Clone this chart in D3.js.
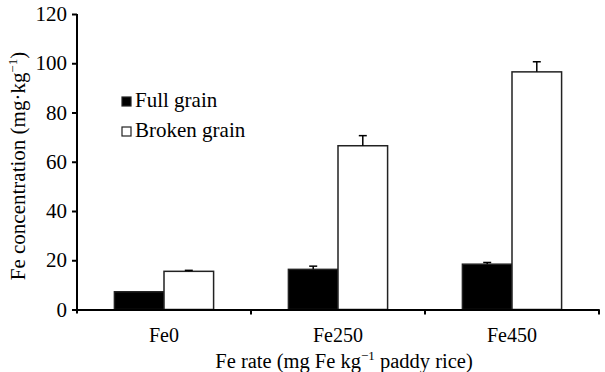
<!DOCTYPE html>
<html>
<head>
  <meta charset="utf-8">
  <title>Fe concentration</title>
  <style>
    body { margin: 0; background: #fff; }
  </style>
</head>
<body>
  <div id="chart"></div>
  <script src="https://d3js.org/d3.v7.min.js"></script>
  <script>
    const categories = ["Fe0", "Fe250", "Fe450"];
    const series = ["Full grain", "Broken grain"];
    const fullGrain = [7.2, 16.3, 18.4];
    const fullErr = [0, 1.3, 0.7];
    const brokenGrain = [15.5, 66.5, 96.5];
    const brokenErr = [0.4, 4.1, 4.1];
    const yTicks = [0, 20, 40, 60, 80, 100, 120];

    const width = 605, height = 372;
    const margin = { top: 14, right: 6, bottom: 62, left: 77 };
    const serif = "'Liberation Serif', 'Times New Roman', serif";

    const svg = d3.select("#chart").append("svg")
      .attr("width", width)
      .attr("height", height);

    const x = d3.scaleBand()
      .domain(categories)
      .range([margin.left, width - margin.right])
      .paddingInner(0)
      .paddingOuter(0);

    const x1 = d3.scaleBand()
      .domain(series)
      .range([x.bandwidth() * 0.215, x.bandwidth() * 0.785]);

    const y = d3.scaleLinear()
      .domain([0, 120])
      .range([309.5, margin.top]);

    const rows = categories.map((c, i) => ({
      cat: c,
      vals: [
        { s: series[0], v: fullGrain[i], e: fullErr[i] },
        { s: series[1], v: brokenGrain[i], e: brokenErr[i] }
      ]
    }));

    const fill = d3.scaleOrdinal().domain(series).range(["#000", "#fff"]);

    // bars
    const g = svg.append("g").selectAll("g")
      .data(rows)
      .join("g")
      .attr("transform", d => `translate(${x(d.cat)},0)`);

    g.selectAll("rect")
      .data(d => d.vals)
      .join("rect")
      .attr("x", d => x1(d.s))
      .attr("y", d => y(d.v))
      .attr("width", x1.bandwidth())
      .attr("height", d => y(0) - y(d.v))
      .attr("fill", d => fill(d.s))
      .attr("stroke", "#222")
      .attr("stroke-width", 1.5);

    // error bars (upper only)
    const eb = g.selectAll("g.err")
      .data(d => d.vals.filter(v => v.e > 0))
      .join("g")
      .attr("class", "err")
      .attr("stroke", "#000")
      .attr("stroke-width", 1.5);
    eb.append("line")
      .attr("x1", d => x1(d.s) + x1.bandwidth() / 2)
      .attr("x2", d => x1(d.s) + x1.bandwidth() / 2)
      .attr("y1", d => y(d.v))
      .attr("y2", d => y(d.v + d.e));
    eb.append("line")
      .attr("x1", d => x1(d.s) + x1.bandwidth() / 2 - 4)
      .attr("x2", d => x1(d.s) + x1.bandwidth() / 2 + 4)
      .attr("y1", d => y(d.v + d.e))
      .attr("y2", d => y(d.v + d.e));

    // y axis
    const yAxis = svg.append("g")
      .attr("transform", `translate(${margin.left},0)`)
      .call(d3.axisLeft(y).tickValues(yTicks).tickSize(5).tickPadding(5).tickSizeOuter(0));
    yAxis.select(".domain").attr("stroke-width", 2).attr("d", `M0,${y(120)}V${y(0) + 4}`);
    yAxis.selectAll(".tick line").attr("stroke-width", 2);
    yAxis.selectAll(".tick text")
      .style("font-family", serif)
      .style("font-size", "21px")
      .attr("fill", "#000");

    // x axis
    const xAxis = svg.append("g")
      .attr("transform", `translate(0,${y(0)})`)
      .call(d3.axisBottom(x).tickSize(0).tickPadding(18).tickSizeOuter(0));
    xAxis.select(".domain").attr("stroke-width", 2);
    xAxis.selectAll(".tick text")
      .style("font-family", serif)
      .style("font-size", "20px")
      .attr("fill", "#000");
    xAxis.append("g").selectAll("line")
      .data(categories)
      .join("line")
      .attr("x1", d => x(d) + x.bandwidth())
      .attr("x2", d => x(d) + x.bandwidth())
      .attr("y1", 0)
      .attr("y2", 5)
      .attr("stroke", "#000")
      .attr("stroke-width", 2);

    // axis titles
    const yt = svg.append("text")
      .attr("transform", "translate(25,166) rotate(-90)")
      .attr("text-anchor", "middle")
      .style("font-family", serif)
      .style("font-size", "21px");
    yt.append("tspan").text("Fe concentration (mg·kg");
    yt.append("tspan").style("font-size", "13px").attr("dy", -8).text("−1");
    yt.append("tspan").attr("dy", 8).text(")");

    const xt = svg.append("text")
      .attr("x", 344)
      .attr("y", 368)
      .attr("text-anchor", "middle")
      .style("font-family", serif)
      .style("font-size", "20.5px");
    xt.append("tspan").text("Fe rate (mg Fe kg");
    xt.append("tspan").style("font-size", "13px").attr("dy", -8).text("−1");
    xt.append("tspan").attr("dy", 8).text(" paddy rice)");

    // legend
    const legend = svg.append("g").selectAll("g")
      .data(series)
      .join("g")
      .attr("transform", (d, i) => `translate(122,${97 + i * 30})`);
    legend.append("rect")
      .attr("width", 9)
      .attr("height", 9)
      .attr("fill", d => fill(d))
      .attr("stroke", "#222")
      .attr("stroke-width", 1.2);
    legend.append("text")
      .attr("x", 13)
      .attr("y", 9.5)
      .style("font-family", serif)
      .style("font-size", "21px")
      .text(d => d);
  </script>
</body>
</html>
